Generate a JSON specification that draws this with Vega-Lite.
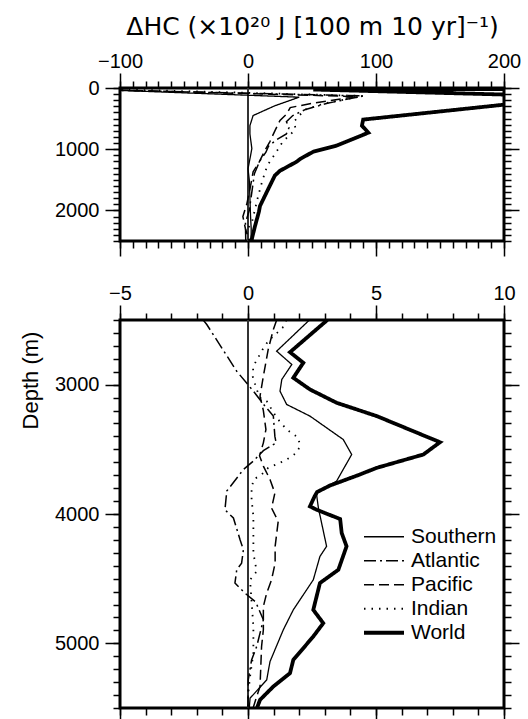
{
  "$schema": "https://vega.github.io/schema/vega-lite/v6.json",
  "padding": {"left": 16, "top": 12, "right": 5, "bottom": 5},
  "background": "white",
  "config": {
    "font": "Liberation Sans",
    "view": {"stroke": "black", "strokeWidth": 3},
    "axis": {"grid": false, "domain": false, "tickColor": "black", "tickWidth": 1.5, "labelColor": "black", "labelFontSize": 20, "labelFont": "Liberation Sans", "titleFont": "Liberation Sans", "titleFontWeight": "normal", "titleColor": "black", "labelFlush": false, "labelOverlap": false, "format": "d"}
  },
  "datasets": {
    "top": [
      {"ocean": "Southern", "depth": 0, "value": -150}, {"ocean": "Southern", "depth": 150, "value": 40}, {"ocean": "Southern", "depth": 290, "value": 21}, {"ocean": "Southern", "depth": 450, "value": 4}, {"ocean": "Southern", "depth": 615, "value": 1.5}, {"ocean": "Southern", "depth": 750, "value": 1.5}, {"ocean": "Southern", "depth": 990, "value": 3}, {"ocean": "Southern", "depth": 1160, "value": 1.5}, {"ocean": "Southern", "depth": 1320, "value": 0}, {"ocean": "Southern", "depth": 1500, "value": 1}, {"ocean": "Southern", "depth": 1800, "value": 1.5}, {"ocean": "Southern", "depth": 2100, "value": 2}, {"ocean": "Southern", "depth": 2300, "value": 2.5}, {"ocean": "Southern", "depth": 2500, "value": 2.4},
      {"ocean": "Atlantic", "depth": 0, "value": -180}, {"ocean": "Atlantic", "depth": 130, "value": 90}, {"ocean": "Atlantic", "depth": 250, "value": 62}, {"ocean": "Atlantic", "depth": 350, "value": 45}, {"ocean": "Atlantic", "depth": 450, "value": 35}, {"ocean": "Atlantic", "depth": 550, "value": 30}, {"ocean": "Atlantic", "depth": 650, "value": 32}, {"ocean": "Atlantic", "depth": 750, "value": 30}, {"ocean": "Atlantic", "depth": 850, "value": 22}, {"ocean": "Atlantic", "depth": 950, "value": 16}, {"ocean": "Atlantic", "depth": 1050, "value": 14}, {"ocean": "Atlantic", "depth": 1200, "value": 9}, {"ocean": "Atlantic", "depth": 1400, "value": 5}, {"ocean": "Atlantic", "depth": 1700, "value": 3}, {"ocean": "Atlantic", "depth": 2000, "value": 1}, {"ocean": "Atlantic", "depth": 2200, "value": -2}, {"ocean": "Atlantic", "depth": 2500, "value": -1.75},
      {"ocean": "Pacific", "depth": 0, "value": -160}, {"ocean": "Pacific", "depth": 140, "value": 85}, {"ocean": "Pacific", "depth": 250, "value": 50}, {"ocean": "Pacific", "depth": 320, "value": 33}, {"ocean": "Pacific", "depth": 430, "value": 30}, {"ocean": "Pacific", "depth": 530, "value": 25}, {"ocean": "Pacific", "depth": 700, "value": 21}, {"ocean": "Pacific", "depth": 880, "value": 17}, {"ocean": "Pacific", "depth": 1030, "value": 13}, {"ocean": "Pacific", "depth": 1200, "value": 9}, {"ocean": "Pacific", "depth": 1370, "value": 4}, {"ocean": "Pacific", "depth": 1600, "value": 2}, {"ocean": "Pacific", "depth": 1900, "value": -1}, {"ocean": "Pacific", "depth": 2100, "value": -4}, {"ocean": "Pacific", "depth": 2300, "value": -2}, {"ocean": "Pacific", "depth": 2500, "value": 1.1},
      {"ocean": "Indian", "depth": 0, "value": -140}, {"ocean": "Indian", "depth": 130, "value": 90}, {"ocean": "Indian", "depth": 250, "value": 60}, {"ocean": "Indian", "depth": 350, "value": 45}, {"ocean": "Indian", "depth": 450, "value": 40}, {"ocean": "Indian", "depth": 550, "value": 36}, {"ocean": "Indian", "depth": 650, "value": 37}, {"ocean": "Indian", "depth": 720, "value": 35}, {"ocean": "Indian", "depth": 880, "value": 27}, {"ocean": "Indian", "depth": 1050, "value": 22}, {"ocean": "Indian", "depth": 1270, "value": 15}, {"ocean": "Indian", "depth": 1530, "value": 11}, {"ocean": "Indian", "depth": 1760, "value": 8}, {"ocean": "Indian", "depth": 1980, "value": 5.5}, {"ocean": "Indian", "depth": 2200, "value": 3}, {"ocean": "Indian", "depth": 2350, "value": -2}, {"ocean": "Indian", "depth": 2500, "value": 1.5},
      {"ocean": "World", "depth": 0, "value": 600}, {"ocean": "World", "depth": 25, "value": 51}, {"ocean": "World", "depth": 140, "value": 260}, {"ocean": "World", "depth": 516, "value": 90}, {"ocean": "World", "depth": 615, "value": 89}, {"ocean": "World", "depth": 730, "value": 94}, {"ocean": "World", "depth": 850, "value": 80}, {"ocean": "World", "depth": 943, "value": 69}, {"ocean": "World", "depth": 1041, "value": 51}, {"ocean": "World", "depth": 1156, "value": 41}, {"ocean": "World", "depth": 1205, "value": 38}, {"ocean": "World", "depth": 1352, "value": 25}, {"ocean": "World", "depth": 1430, "value": 21}, {"ocean": "World", "depth": 1600, "value": 17}, {"ocean": "World", "depth": 1926, "value": 9.4}, {"ocean": "World", "depth": 2025, "value": 8.5}, {"ocean": "World", "depth": 2254, "value": 5.5}, {"ocean": "World", "depth": 2467, "value": 3}, {"ocean": "World", "depth": 2500, "value": 3.1}
    ],
    "bottom": [
      {"ocean": "Southern", "depth": 2500, "value": 2.4}, {"ocean": "Southern", "depth": 2741, "value": 1.12}, {"ocean": "Southern", "depth": 2844, "value": 1.71}, {"ocean": "Southern", "depth": 2960, "value": 1.32}, {"ocean": "Southern", "depth": 3050, "value": 1.25}, {"ocean": "Southern", "depth": 3153, "value": 1.51}, {"ocean": "Southern", "depth": 3243, "value": 2.42}, {"ocean": "Southern", "depth": 3424, "value": 3.72}, {"ocean": "Southern", "depth": 3540, "value": 4.05}, {"ocean": "Southern", "depth": 3746, "value": 3.46}, {"ocean": "Southern", "depth": 3836, "value": 2.68}, {"ocean": "Southern", "depth": 3851, "value": 2.68}, {"ocean": "Southern", "depth": 3954, "value": 2.75}, {"ocean": "Southern", "depth": 4250, "value": 3.07}, {"ocean": "Southern", "depth": 4328, "value": 2.81}, {"ocean": "Southern", "depth": 4509, "value": 2.55}, {"ocean": "Southern", "depth": 4741, "value": 1.77}, {"ocean": "Southern", "depth": 4895, "value": 1.38}, {"ocean": "Southern", "depth": 5141, "value": 0.86}, {"ocean": "Southern", "depth": 5283, "value": 0.73}, {"ocean": "Southern", "depth": 5424, "value": 0.08}, {"ocean": "Southern", "depth": 5500, "value": 0.05},
      {"ocean": "Atlantic", "depth": 2500, "value": -1.75}, {"ocean": "Atlantic", "depth": 2535, "value": -1.61}, {"ocean": "Atlantic", "depth": 2896, "value": -0.44}, {"ocean": "Atlantic", "depth": 3050, "value": 0.21}, {"ocean": "Atlantic", "depth": 3150, "value": 0.6}, {"ocean": "Atlantic", "depth": 3243, "value": 0.99}, {"ocean": "Atlantic", "depth": 3400, "value": 1.05}, {"ocean": "Atlantic", "depth": 3450, "value": 1.1}, {"ocean": "Atlantic", "depth": 3510, "value": 0.6}, {"ocean": "Atlantic", "depth": 3590, "value": 0.21}, {"ocean": "Atlantic", "depth": 3656, "value": -0.18}, {"ocean": "Atlantic", "depth": 3823, "value": -0.83}, {"ocean": "Atlantic", "depth": 3967, "value": -0.9}, {"ocean": "Atlantic", "depth": 4031, "value": -0.57}, {"ocean": "Atlantic", "depth": 4199, "value": -0.31}, {"ocean": "Atlantic", "depth": 4276, "value": -0.18}, {"ocean": "Atlantic", "depth": 4380, "value": -0.25}, {"ocean": "Atlantic", "depth": 4431, "value": -0.44}, {"ocean": "Atlantic", "depth": 4534, "value": -0.51}, {"ocean": "Atlantic", "depth": 4612, "value": -0.12}, {"ocean": "Atlantic", "depth": 4680, "value": 0.3}, {"ocean": "Atlantic", "depth": 4818, "value": 0.6}, {"ocean": "Atlantic", "depth": 5024, "value": 0.34}, {"ocean": "Atlantic", "depth": 5128, "value": 0.14}, {"ocean": "Atlantic", "depth": 5283, "value": 0.01}, {"ocean": "Atlantic", "depth": 5500, "value": 0.0},
      {"ocean": "Pacific", "depth": 2500, "value": 1.12}, {"ocean": "Pacific", "depth": 2573, "value": 0.99}, {"ocean": "Pacific", "depth": 2728, "value": 0.79}, {"ocean": "Pacific", "depth": 2934, "value": 0.6}, {"ocean": "Pacific", "depth": 3089, "value": 0.47}, {"ocean": "Pacific", "depth": 3200, "value": 0.6}, {"ocean": "Pacific", "depth": 3347, "value": 0.7}, {"ocean": "Pacific", "depth": 3450, "value": 0.6}, {"ocean": "Pacific", "depth": 3550, "value": 0.45}, {"ocean": "Pacific", "depth": 3630, "value": 0.6}, {"ocean": "Pacific", "depth": 3733, "value": 0.86}, {"ocean": "Pacific", "depth": 3838, "value": 1.05}, {"ocean": "Pacific", "depth": 3954, "value": 0.92}, {"ocean": "Pacific", "depth": 4057, "value": 1.18}, {"ocean": "Pacific", "depth": 4250, "value": 1.06}, {"ocean": "Pacific", "depth": 4380, "value": 1.06}, {"ocean": "Pacific", "depth": 4509, "value": 0.92}, {"ocean": "Pacific", "depth": 4612, "value": 0.73}, {"ocean": "Pacific", "depth": 4715, "value": 0.6}, {"ocean": "Pacific", "depth": 4895, "value": 0.6}, {"ocean": "Pacific", "depth": 5024, "value": 0.53}, {"ocean": "Pacific", "depth": 5334, "value": 0.47}, {"ocean": "Pacific", "depth": 5411, "value": 0.34}, {"ocean": "Pacific", "depth": 5500, "value": 0.2},
      {"ocean": "Indian", "depth": 2500, "value": 1.5}, {"ocean": "Indian", "depth": 2560, "value": 1.35}, {"ocean": "Indian", "depth": 2663, "value": 0.79}, {"ocean": "Indian", "depth": 2728, "value": 0.57}, {"ocean": "Indian", "depth": 2857, "value": 0.21}, {"ocean": "Indian", "depth": 2934, "value": 0.18}, {"ocean": "Indian", "depth": 3037, "value": 0.34}, {"ocean": "Indian", "depth": 3101, "value": 0.47}, {"ocean": "Indian", "depth": 3127, "value": 0.73}, {"ocean": "Indian", "depth": 3256, "value": 1.12}, {"ocean": "Indian", "depth": 3347, "value": 1.51}, {"ocean": "Indian", "depth": 3411, "value": 1.97}, {"ocean": "Indian", "depth": 3476, "value": 2.03}, {"ocean": "Indian", "depth": 3527, "value": 1.9}, {"ocean": "Indian", "depth": 3579, "value": 1.51}, {"ocean": "Indian", "depth": 3610, "value": 1.18}, {"ocean": "Indian", "depth": 3643, "value": 0.79}, {"ocean": "Indian", "depth": 3695, "value": 0.53}, {"ocean": "Indian", "depth": 3734, "value": 0.21}, {"ocean": "Indian", "depth": 3811, "value": 0.14}, {"ocean": "Indian", "depth": 3888, "value": 0.14}, {"ocean": "Indian", "depth": 4018, "value": 0.21}, {"ocean": "Indian", "depth": 4302, "value": 0.21}, {"ocean": "Indian", "depth": 4444, "value": 0.34}, {"ocean": "Indian", "depth": 4509, "value": 0.08}, {"ocean": "Indian", "depth": 4870, "value": 0.21}, {"ocean": "Indian", "depth": 5076, "value": 0.21}, {"ocean": "Indian", "depth": 5257, "value": 0.08}, {"ocean": "Indian", "depth": 5386, "value": 0.01}, {"ocean": "Indian", "depth": 5500, "value": 0.0},
      {"ocean": "World", "depth": 2500, "value": 3.1}, {"ocean": "World", "depth": 2749, "value": 1.64}, {"ocean": "World", "depth": 2831, "value": 2.16}, {"ocean": "World", "depth": 2947, "value": 1.77}, {"ocean": "World", "depth": 3037, "value": 2.42}, {"ocean": "World", "depth": 3140, "value": 3.46}, {"ocean": "World", "depth": 3243, "value": 5.03}, {"ocean": "World", "depth": 3445, "value": 7.5}, {"ocean": "World", "depth": 3540, "value": 6.85}, {"ocean": "World", "depth": 3643, "value": 5.03}, {"ocean": "World", "depth": 3700, "value": 4.3}, {"ocean": "World", "depth": 3780, "value": 3.2}, {"ocean": "World", "depth": 3830, "value": 2.7}, {"ocean": "World", "depth": 3864, "value": 2.6}, {"ocean": "World", "depth": 3941, "value": 2.42}, {"ocean": "World", "depth": 3967, "value": 2.68}, {"ocean": "World", "depth": 4039, "value": 3.6}, {"ocean": "World", "depth": 4147, "value": 3.66}, {"ocean": "World", "depth": 4250, "value": 3.85}, {"ocean": "World", "depth": 4431, "value": 3.53}, {"ocean": "World", "depth": 4534, "value": 2.81}, {"ocean": "World", "depth": 4741, "value": 2.55}, {"ocean": "World", "depth": 4844, "value": 2.94}, {"ocean": "World", "depth": 4947, "value": 2.55}, {"ocean": "World", "depth": 5128, "value": 1.77}, {"ocean": "World", "depth": 5231, "value": 1.64}, {"ocean": "World", "depth": 5334, "value": 0.99}, {"ocean": "World", "depth": 5437, "value": 0.47}, {"ocean": "World", "depth": 5500, "value": 0.35}
    ]
  },
  "spacing": 22,
  "resolve": {"scale": {"strokeDash": "independent", "strokeWidth": "independent"}, "legend": {"strokeDash": "independent", "strokeWidth": "independent"}},
  "vconcat": [
    {
      "width": 384,
      "height": 153,
      "data": {"name": "top"},
      "layer": [
        {
          "mark": {"type": "rule", "color": "#333333", "strokeWidth": 1},
          "encoding": {
            "x": {"datum": 0, "type": "quantitative", "scale": {"domain": [-100, 200], "nice": false, "zero": false},
              "axis": {"orient": "top", "values": [-100, -90, -80, -70, -60, -50, -40, -30, -20, -10, 0, 10, 20, 30, 40, 50, 60, 70, 80, 90, 100, 110, 120, 130, 140, 150, 160, 170, 180, 190, 200], "tickSize": 7, "labels": false, "title": null}}
          }
        },
        {
          "mark": {"type": "line", "clip": true, "color": "black"},
          "encoding": {
            "x": {"field": "value", "type": "quantitative", "scale": {"domain": [-100, 200], "nice": false, "zero": false},
              "axis": {"orient": "top", "values": [-100, 0, 100, 200], "tickSize": 15, "labelPadding": 2, "title": "ΔHC (×10²⁰ J [100 m 10 yr]⁻¹)", "titleFont": "DejaVu Sans", "titleFontSize": 25, "titlePadding": 12}},
            "y": {"field": "depth", "type": "quantitative", "scale": {"domain": [0, 2500], "reverse": true, "nice": false, "zero": false},
              "axis": {"orient": "left", "values": [0, 1000, 2000], "tickSize": 15, "labelPadding": 6, "title": null}},
            "order": {"field": "depth", "type": "quantitative"},
            "strokeDash": {"field": "ocean", "type": "nominal", "scale": {"type": "ordinal", "domain": ["Southern", "Atlantic", "Pacific", "Indian", "World"], "range": [[1, 0], [12, 4, 2, 4], [10, 5], [1.5, 6], [1, 0]]}, "legend": null},
            "strokeWidth": {"field": "ocean", "type": "nominal", "scale": {"type": "ordinal", "domain": ["Southern", "Atlantic", "Pacific", "Indian", "World"], "range": [1.3, 1.5, 1.5, 1.8, 3.8]}, "legend": null}
          }
        },
        {
          "mark": {"type": "line", "opacity": 0},
          "encoding": {
            "x": {"field": "value", "type": "quantitative", "scale": {"domain": [-100, 200], "nice": false, "zero": false},
              "axis": {"orient": "bottom", "values": [-100, 0, 100, 200], "tickSize": 15, "labels": false, "title": null}},
            "y": {"field": "depth", "type": "quantitative", "scale": {"domain": [0, 2500], "reverse": true, "nice": false, "zero": false},
              "axis": {"orient": "left", "values": [0, 100, 200, 300, 400, 500, 600, 700, 800, 900, 1000, 1100, 1200, 1300, 1400, 1500, 1600, 1700, 1800, 1900, 2000, 2100, 2200, 2300, 2400, 2500], "tickSize": 7, "labels": false, "title": null}},
            "detail": {"field": "ocean", "type": "nominal"}
          }
        },
        {
          "mark": {"type": "line", "opacity": 0},
          "encoding": {
            "x": {"field": "value", "type": "quantitative", "scale": {"domain": [-100, 200], "nice": false, "zero": false},
              "axis": {"orient": "bottom", "values": [-100, -90, -80, -70, -60, -50, -40, -30, -20, -10, 0, 10, 20, 30, 40, 50, 60, 70, 80, 90, 100, 110, 120, 130, 140, 150, 160, 170, 180, 190, 200], "tickSize": 7, "labels": false, "title": null}},
            "y": {"field": "depth", "type": "quantitative", "scale": {"domain": [0, 2500], "reverse": true, "nice": false, "zero": false},
              "axis": {"orient": "right", "values": [0, 1000, 2000], "tickSize": 15, "labels": false, "title": null}},
            "detail": {"field": "ocean", "type": "nominal"}
          }
        },
        {
          "mark": {"type": "line", "opacity": 0},
          "encoding": {
            "x": {"field": "value", "type": "quantitative", "scale": {"domain": [-100, 200], "nice": false, "zero": false}, "axis": null},
            "y": {"field": "depth", "type": "quantitative", "scale": {"domain": [0, 2500], "reverse": true, "nice": false, "zero": false},
              "axis": {"orient": "right", "values": [0, 100, 200, 300, 400, 500, 600, 700, 800, 900, 1000, 1100, 1200, 1300, 1400, 1500, 1600, 1700, 1800, 1900, 2000, 2100, 2200, 2300, 2400, 2500], "tickSize": 7, "labels": false, "title": null}},
            "detail": {"field": "ocean", "type": "nominal"}
          }
        }
      ],
      "resolve": {"axis": {"x": "independent", "y": "independent"}}
    },
    {
      "width": 384,
      "height": 388,
      "data": {"name": "bottom"},
      "layer": [
        {
          "mark": {"type": "rule", "color": "#333333", "strokeWidth": 1},
          "encoding": {
            "x": {"datum": 0, "type": "quantitative", "scale": {"domain": [-5, 10], "nice": false, "zero": false},
              "axis": {"orient": "top", "values": [-5, -4, -3, -2, -1, 0, 1, 2, 3, 4, 5, 6, 7, 8, 9, 10], "tickSize": 7, "labels": false, "title": null}}
          }
        },
        {
          "mark": {"type": "line", "clip": true, "color": "black"},
          "encoding": {
            "x": {"field": "value", "type": "quantitative", "scale": {"domain": [-5, 10], "nice": false, "zero": false},
              "axis": {"orient": "top", "values": [-5, 0, 5, 10], "tickSize": 15, "labelPadding": 2, "title": null}},
            "y": {"field": "depth", "type": "quantitative", "scale": {"domain": [2500, 5500], "reverse": true, "nice": false, "zero": false},
              "axis": {"orient": "left", "values": [3000, 4000, 5000], "tickSize": 15, "labelPadding": 6, "title": "Depth (m)", "titleFontSize": 22, "titlePadding": 12, "titleY": 60}},
            "order": {"field": "depth", "type": "quantitative"},
            "strokeDash": {"field": "ocean", "type": "nominal", "scale": {"type": "ordinal", "domain": ["Southern", "Atlantic", "Pacific", "Indian", "World"], "range": [[1, 0], [12, 4, 2, 4], [10, 5], [1.5, 6], [1, 0]]},
              "legend": {"orient": "none", "legendX": 242, "legendY": 205, "title": null, "symbolType": "stroke", "symbolSize": 1600, "symbolStrokeColor": "black", "labelFontSize": 21, "labelColor": "black", "labelOffset": 5, "clipHeight": 23.5, "padding": 0, "rowPadding": 0}},
            "strokeWidth": {"field": "ocean", "type": "nominal", "scale": {"type": "ordinal", "domain": ["Southern", "Atlantic", "Pacific", "Indian", "World"], "range": [1.3, 1.5, 1.5, 1.8, 3.8]},
              "legend": {"orient": "none", "legendX": 242, "legendY": 205, "title": null, "symbolType": "stroke", "symbolSize": 1600, "symbolStrokeColor": "black", "labelFontSize": 21, "labelColor": "black", "labelOffset": 5, "clipHeight": 23.5, "padding": 0, "rowPadding": 0}}
          }
        },
        {
          "mark": {"type": "line", "opacity": 0},
          "encoding": {
            "x": {"field": "value", "type": "quantitative", "scale": {"domain": [-5, 10], "nice": false, "zero": false},
              "axis": {"orient": "bottom", "values": [-5, 0, 5, 10], "tickSize": 15, "labels": false, "title": null}},
            "y": {"field": "depth", "type": "quantitative", "scale": {"domain": [2500, 5500], "reverse": true, "nice": false, "zero": false},
              "axis": {"orient": "left", "values": [2500, 2600, 2700, 2800, 2900, 3000, 3100, 3200, 3300, 3400, 3500, 3600, 3700, 3800, 3900, 4000, 4100, 4200, 4300, 4400, 4500, 4600, 4700, 4800, 4900, 5000, 5100, 5200, 5300, 5400, 5500], "tickSize": 7, "labels": false, "title": null}},
            "detail": {"field": "ocean", "type": "nominal"}
          }
        },
        {
          "mark": {"type": "line", "opacity": 0},
          "encoding": {
            "x": {"field": "value", "type": "quantitative", "scale": {"domain": [-5, 10], "nice": false, "zero": false},
              "axis": {"orient": "bottom", "values": [-5, -4, -3, -2, -1, 0, 1, 2, 3, 4, 5, 6, 7, 8, 9, 10], "tickSize": 7, "labels": false, "title": null}},
            "y": {"field": "depth", "type": "quantitative", "scale": {"domain": [2500, 5500], "reverse": true, "nice": false, "zero": false},
              "axis": {"orient": "right", "values": [3000, 4000, 5000], "tickSize": 15, "labels": false, "title": null}},
            "detail": {"field": "ocean", "type": "nominal"}
          }
        },
        {
          "mark": {"type": "line", "opacity": 0},
          "encoding": {
            "x": {"field": "value", "type": "quantitative", "scale": {"domain": [-5, 10], "nice": false, "zero": false}, "axis": null},
            "y": {"field": "depth", "type": "quantitative", "scale": {"domain": [2500, 5500], "reverse": true, "nice": false, "zero": false},
              "axis": {"orient": "right", "values": [2500, 2600, 2700, 2800, 2900, 3000, 3100, 3200, 3300, 3400, 3500, 3600, 3700, 3800, 3900, 4000, 4100, 4200, 4300, 4400, 4500, 4600, 4700, 4800, 4900, 5000, 5100, 5200, 5300, 5400, 5500], "tickSize": 7, "labels": false, "title": null}},
            "detail": {"field": "ocean", "type": "nominal"}
          }
        }
      ],
      "resolve": {"axis": {"x": "independent", "y": "independent"}}
    }
  ]
}
